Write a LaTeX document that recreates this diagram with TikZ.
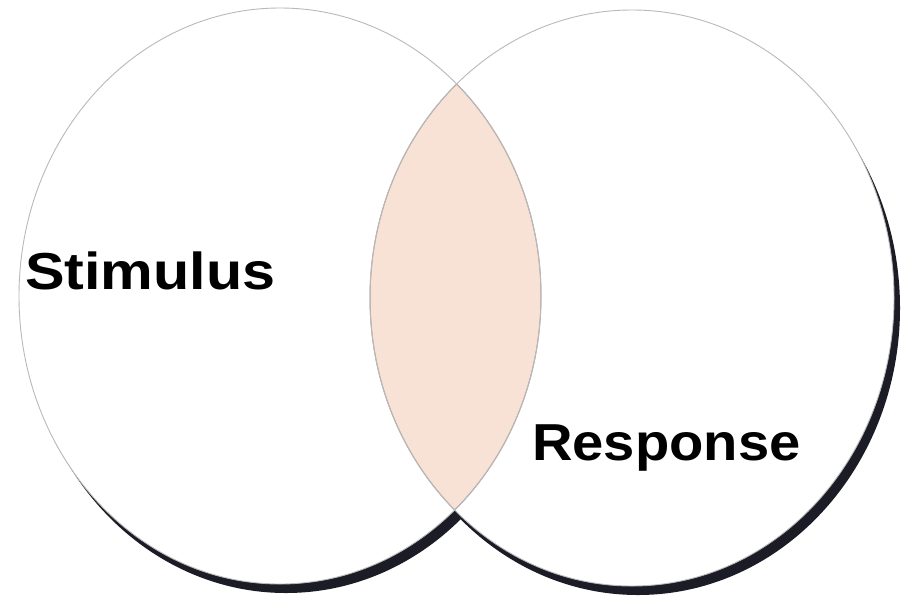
\documentclass[tikz,border=0pt]{standalone}
\usepackage{fontspec}
\setmainfont{Liberation Sans}
\definecolor{shadowc}{RGB}{28,28,38}
\definecolor{outlinec}{RGB}{185,185,185}
\definecolor{lensc}{RGB}{248,225,213}
\definecolor{lensedge}{RGB}{170,160,155}
\begin{document}
\begin{tikzpicture}[x=1pt,y=-1pt,
  label/.style={anchor=base west,inner sep=0pt,font=\fontsize{52}{60}\selectfont\bfseries}]
\useasboundingbox (0,0) rectangle (902,598);
\fill[white] (0,0) rectangle (902,598);
% shadows
\fill[shadowc] (286,306) ellipse [x radius=261,y radius=287];
\fill[shadowc] (638,308) ellipse [x radius=262,y radius=287];
% white bodies
\fill[white] (280,296) ellipse [x radius=261,y radius=288];
\fill[white] (632,298) ellipse [x radius=262,y radius=288];
% lens
\begin{scope}
  \clip (280,296) ellipse [x radius=261,y radius=288];
  \fill[lensc] (632,298) ellipse [x radius=262,y radius=288];
  \draw[lensedge,line width=1pt] (632,298) ellipse [x radius=262,y radius=288];
\end{scope}
\begin{scope}
  \clip (632,298) ellipse [x radius=262,y radius=288];
  \draw[lensedge,line width=1pt] (280,296) ellipse [x radius=261,y radius=288];
\end{scope}
% outlines
\draw[outlinec,line width=0.9pt] (280,296) ellipse [x radius=261,y radius=288];
\draw[outlinec,line width=0.9pt] (632,298) ellipse [x radius=262,y radius=288];
% labels
\node[label,xscale=1.14] (stim) at (25,289) {Stimulus};
\node[label,xscale=1.08] (resp) at (532,460) {Response};
\end{tikzpicture}
\end{document}
